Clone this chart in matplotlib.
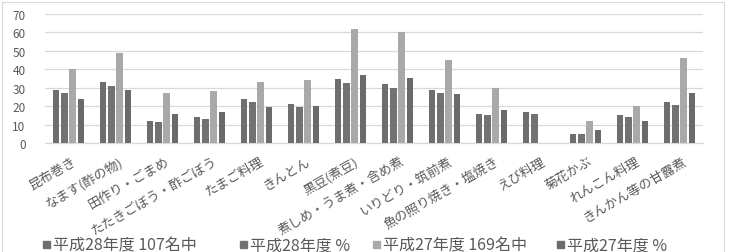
import matplotlib
matplotlib.use('Agg')
import matplotlib.pyplot as plt
import matplotlib.patches as mpatches
import matplotlib.transforms as mtransforms
import numpy as np

plt.rcParams['font.family'] = ['Noto Sans CJK JP', 'DejaVu Sans']

# 料理の種類
categories = ['昆布巻き', 'なます(酢の物)', '田作り・ごまめ', 'たたきごぼう・酢ごぼう',
              'たまご料理', 'きんとん', '黒豆(煮豆)', '煮しめ・うま煮・含め煮',
              'いりどり・筑前煮', '魚の照り焼き・塩焼き', 'えび料理', '菊花かぶ',
              'れんこん料理', 'きんかん等の甘露煮']

series_names = ['平成28年度 107名中', '平成28年度 %', '平成27年度 169名中', '平成27年度 %']

h28_count = [29, 33, 12, 14, 24, 21, 35, 32, 29, 16, 17, 5, 15, 22]
h28_pct = [27.1, 30.8, 11.2, 13.1, 22.4, 19.6, 32.7, 29.9, 27.1, 15.0, 15.9, 4.7, 14.0, 20.6]
h27_count = [40, 49, 27, 28, 33, 34, 62, 60, 45, 30, 0, 12, 20, 46]
h27_pct = [23.7, 29.0, 16.0, 16.6, 19.5, 20.1, 36.7, 35.5, 26.6, 17.8, 0, 7.1, 11.8, 27.2]

colors = ['#6e6e6e', '#727272', '#a9a9a9', '#6a6a6a']
text_color = '#595959'

W, H = 729, 253
fig = plt.figure(figsize=(W / 100, H / 100), dpi=100)
ax = fig.add_axes([45 / W, 109 / H, 658 / W, 129 / H])

x = np.arange(len(categories))
step = 0.175
width = 0.14
for i, vals in enumerate([h28_count, h28_pct, h27_count, h27_pct]):
    ax.bar(x + (i - 1.5) * step, vals, width, color=colors[i], label=series_names[i],
           zorder=3)

ax.set_xlim(-0.5, len(categories) - 0.5)
ax.set_ylim(0, 70)
ax.set_yticks(np.arange(0, 71, 10))
ax.grid(axis='y', color='#d9d9d9', linewidth=0.9, zorder=0)
for side in ['top', 'right', 'left']:
    ax.spines[side].set_visible(False)
ax.spines['bottom'].set_color('#d9d9d9')
ax.spines['bottom'].set_linewidth(0.9)

ax.set_xticks(x)
ax.set_xticklabels(categories, rotation=30, ha='right', rotation_mode='anchor',
                   fontsize=9.4, color=text_color)
ax.tick_params(axis='x', length=0, pad=8)
ax.tick_params(axis='y', length=0, pad=14, labelsize=8.5, labelcolor=text_color)
shift = mtransforms.ScaledTranslation(3 / 100, 0, fig.dpi_scale_trans)
for lbl in ax.get_xticklabels():
    lbl.set_transform(lbl.get_transform() + shift)

# 凡例（手動配置）
legend_x = [43, 240, 373, 557]
legend_y = 246
for i, name in enumerate(series_names):
    fig.patches.append(mpatches.Rectangle(((legend_x[i]) / W, (H - legend_y - 3) / H),
                                          7 / W, 7 / H, transform=fig.transFigure,
                                          color=colors[i]))
    fig.text((legend_x[i] + 10) / W, (H - legend_y) / H, name, fontsize=11.5,
             color=text_color, va='center', ha='left')

# 外枠
fig.patches.append(mpatches.Rectangle((2 / W, -0.1), 722 / W, 1.1 - 3 / H,
                                      transform=fig.transFigure, fill=False,
                                      edgecolor='#d9d9d9', linewidth=0.8))

plt.savefig('out.png', dpi=100)
plt.close()
